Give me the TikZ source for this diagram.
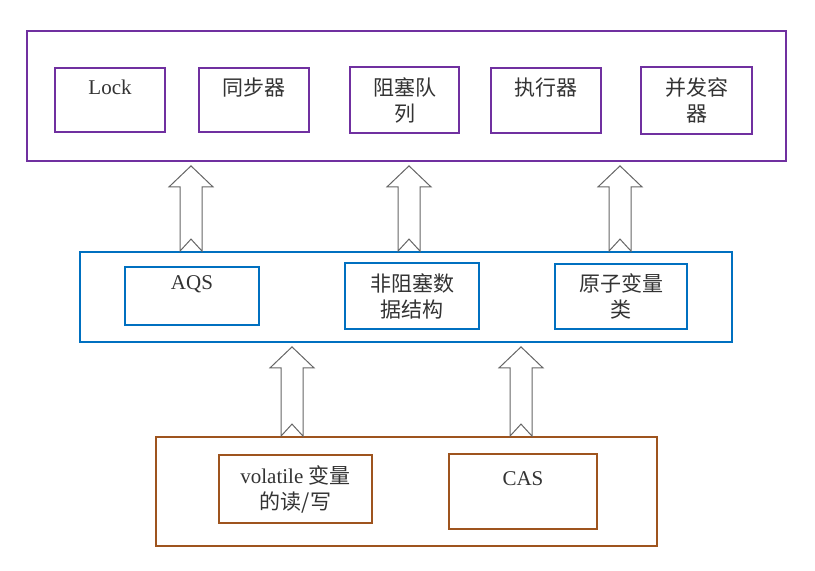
\documentclass[tikz,border=0pt]{standalone}
\usepackage{fontspec}
\setmainfont{Liberation Serif}
\newfontfamily\cjk{Noto Sans CJK SC}
\usetikzlibrary{positioning}
\usetikzlibrary{calc}

\definecolor{layerpurple}{RGB}{112,48,160}
\definecolor{layerblue}{RGB}{0,112,192}
\definecolor{layerbrown}{RGB}{158,84,30}

% hollow block arrow from the top of one layer up to the bottom of the next
\newcommand{\hollowup}[3]{%
    \draw[hollow] let \p1=(#2.north), \p2=(#3.south), \p3=(#1,0) in
        (\x3-11pt,\y1) -- (\x3-11pt,\y2-25pt) -- (\x3-22pt,\y2-25pt) -- (\x3,\y2-4pt)
        -- (\x3+22pt,\y2-25pt) -- (\x3+11pt,\y2-25pt) -- (\x3+11pt,\y1) -- (\x3,\y1+12pt) -- cycle;}

\begin{document}
\begin{tikzpicture}[x=1pt, y=-1pt,
    layer/.style={rectangle, draw, line width=1.8pt, inner sep=0pt},
    block/.style={align=center, rectangle, draw, line width=2pt, inner sep=0pt, text=black!80,
        font=\fontsize{21}{26}\selectfont},
    hollow/.style={draw=black!60, line width=1pt, fill=white},
]
    \useasboundingbox (0,0) rectangle (815,571);

    % top layer
    \node[layer, draw=layerpurple, minimum width=759pt, minimum height=130pt] (T) at (406.5,96) {};
    \node[block, draw=layerpurple, minimum width=110pt, minimum height=64pt] (T1) at (110,100) {Lock\\~};
    \node[block, draw=layerpurple, minimum width=110pt, minimum height=64pt] (T2) [right=32pt of T1] {\cjk 同步器\\~};
    \node[block, draw=layerpurple, minimum width=109pt, minimum height=66pt] (T3) [right=39pt of T2] {\cjk 阻塞队\\\cjk 列};
    \node[block, draw=layerpurple, minimum width=110pt, minimum height=65pt] (T4) [right=30pt of T3] {\cjk 执行器\\~};
    \node[block, draw=layerpurple, minimum width=111pt, minimum height=67pt] (T5) [right=38pt of T4] {\cjk 并发容\\\cjk 器};

    % middle layer
    \node[layer, draw=layerblue, minimum width=652pt, minimum height=90pt] (M) at (406,297) {};
    \node[block, draw=layerblue, minimum width=134pt, minimum height=58pt] (M1) at (192,296) {AQS\\~};
    \node[block, draw=layerblue, minimum width=134pt, minimum height=66pt] (M2) [right=84pt of M1] {\cjk 非阻塞数\\\cjk 据结构};
    \node[block, draw=layerblue, minimum width=132pt, minimum height=65pt] (M3) [right=74pt of M2] {\cjk 原子变量\\\cjk 类};

    % bottom layer
    \node[layer, draw=layerbrown, minimum width=501pt, minimum height=109pt] (B) at (406.5,491.5) {};
    \node[block, draw=layerbrown, minimum width=153pt, minimum height=68pt] (B1) at (295.5,489) {volatile {\cjk 变量}\\\cjk 的读/写};
    \node[block, draw=layerbrown, minimum width=148pt, minimum height=75pt] (B2) at (523,491.5) {CAS\\~};

    \hollowup{191}{M}{T}
    \hollowup{409}{M}{T}
    \hollowup{620}{M}{T}
    \hollowup{292}{B}{M}
    \hollowup{521}{B}{M}

\end{tikzpicture}
\end{document}
